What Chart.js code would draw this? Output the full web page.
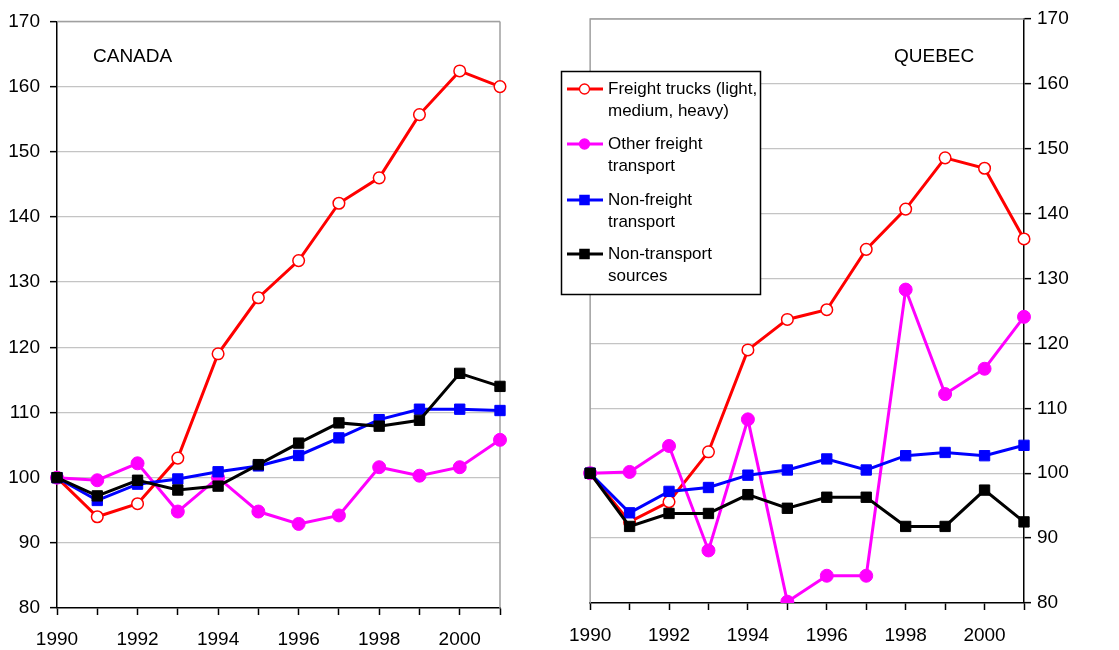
<!DOCTYPE html>
<html>
<head>
<meta charset="utf-8">
<script src="https://cdn.jsdelivr.net/npm/chart.js@4/dist/chart.umd.min.js"></script>
<style>
  html, body { margin:0; padding:0; background:#fff; }
  #wrap { position:relative; width:1119px; height:650px; overflow:hidden; }
  #c1 { position:absolute; left:0; top:0; }
  #c2 { position:absolute; left:555px; top:0; }
</style>
</head>
<body>
<div id="wrap">
  <canvas id="c1" width="555" height="650"></canvas>
  <canvas id="c2" width="564" height="650"></canvas>
</div>
<script>
const years = ['1990','1991','1992','1993','1994','1995','1996','1997','1998','1999','2000','2001'];
const yTickMin = 80;
const yTickMax = 170;
const yTickStep = 10;

const seriesNames = [
  ['Freight trucks (light,', 'medium, heavy)'],
  ['Other freight', 'transport'],
  ['Non-freight', 'transport'],
  ['Non-transport', 'sources']
];

const canadaTrucks       = [100, 94.0, 96.0, 103.0, 119.0, 127.6, 133.3, 142.1, 146.0, 155.7, 162.4, 160.0];
const canadaOther        = [100, 99.6, 102.2, 94.8, 100.0, 94.8, 92.9, 94.2, 101.6, 100.3, 101.6, 105.8];
const canadaNonFreight   = [100, 96.5, 99.0, 99.8, 100.9, 101.8, 103.4, 106.1, 108.9, 110.5, 110.5, 110.3];
const canadaNonTransport = [100, 97.2, 99.6, 98.1, 98.7, 102.0, 105.3, 108.4, 107.9, 108.8, 116.0, 114.0];

const quebecTrucks       = [100, 92.5, 95.6, 103.3, 119.0, 123.7, 125.2, 134.5, 140.7, 148.6, 147.0, 136.1];
const quebecOther        = [100, 100.2, 104.2, 88.1, 108.3, 80.2, 84.2, 84.2, 128.3, 112.2, 116.1, 124.1];
const quebecNonFreight   = [100, 93.9, 97.2, 97.8, 99.7, 100.5, 102.2, 100.5, 102.7, 103.2, 102.7, 104.3];
const quebecNonTransport = [100, 91.8, 93.8, 93.8, 96.7, 94.6, 96.3, 96.3, 91.8, 91.8, 97.4, 92.5];

const FONT = 'Arial, "Liberation Sans", sans-serif';
const styles = [
  { color:'#ff0000', pointStyle:'circle', bg:'#ffffff', radius:5.8, bw:1.5 },
  { color:'#ff00ff', pointStyle:'circle', bg:'#ff00ff', radius:6.5, bw:1 },
  { color:'#0000ff', pointStyle:'rect',   bg:'#0000ff', radius:7.3, bw:1 },
  { color:'#000000', pointStyle:'rect',   bg:'#000000', radius:7.3, bw:1 }
];

function makeDatasets(arrs) {
  return arrs.map((d, i) => ({
    label: seriesNames[i].join(' '),
    data: d,
    borderColor: styles[i].color,
    backgroundColor: styles[i].bg,
    borderWidth: 3,
    pointStyle: styles[i].pointStyle,
    pointRadius: styles[i].radius,
    pointBackgroundColor: styles[i].bg,
    pointBorderColor: styles[i].color,
    pointBorderWidth: styles[i].bw,
    tension: 0,
    order: 4 - i
  }));
}

const framePlugin = {
  id: 'frame',
  beforeDatasetsDraw(chart, args, opts) {
    const a = chart.chartArea, ctx = chart.ctx;
    ctx.save();
    ctx.strokeStyle = '#a0a0a0';
    ctx.lineWidth = 1.5;
    ctx.beginPath();
    if (opts.side === 'right') {
      ctx.moveTo(a.left, a.top); ctx.lineTo(a.right, a.top);
      ctx.moveTo(a.right, a.top); ctx.lineTo(a.right, a.bottom);
    } else {
      ctx.moveTo(a.left, a.bottom); ctx.lineTo(a.left, a.top);
      ctx.lineTo(a.right, a.top);
    }
    ctx.stroke();
    ctx.restore();
  },
  afterDraw(chart, args, opts) {
    const ctx = chart.ctx;
    ctx.save();
    ctx.fillStyle = '#000';
    ctx.font = '19px ' + FONT;
    ctx.textBaseline = 'middle';
    ctx.textAlign = 'left';
    ctx.fillText(opts.title, opts.tx, opts.ty);
    ctx.restore();
    if (opts.legend) drawLegend(ctx);
  }
};

function drawMarker(ctx, st, x, y, r) {
  ctx.fillStyle = st.bg;
  ctx.strokeStyle = st.color;
  ctx.lineWidth = 1.3;
  ctx.beginPath();
  if (st.pointStyle === 'circle') {
    ctx.arc(x, y, r, 0, Math.PI * 2);
  } else {
    ctx.rect(x - r, y - r, 2 * r, 2 * r);
  }
  ctx.fill();
  ctx.stroke();
}

function drawLegend(ctx) {
  const bx = 6, by = 71, bw = 200, bh = 224;
  ctx.save();
  ctx.fillStyle = '#fff';
  ctx.fillRect(bx, by, bw, bh);
  ctx.strokeStyle = '#000';
  ctx.lineWidth = 1.5;
  ctx.strokeRect(bx + 0.5, by + 0.5, bw - 1, bh - 1);
  const rows = [89, 144, 200, 254];
  ctx.font = '17px ' + FONT;
  ctx.textBaseline = 'middle';
  ctx.textAlign = 'left';
  seriesNames.forEach((lines, i) => {
    const y = rows[i];
    const st = styles[i];
    ctx.strokeStyle = st.color;
    ctx.lineWidth = 3;
    ctx.beginPath();
    ctx.moveTo(12, y); ctx.lineTo(48, y);
    ctx.stroke();
    drawMarker(ctx, st, 29.5, y, st.pointStyle === 'circle' ? 5 : 4.6);
    ctx.fillStyle = '#000';
    lines.forEach((t, j) => ctx.fillText(t, 53, y + j * 22.7));
  });
  ctx.restore();
}

function makeChart(id, arrs, side, title, tx, ty, legend, pad, yWidth, xHeight, xPad) {
  return new Chart(document.getElementById(id), {
    type: 'line',
    data: { labels: years, datasets: makeDatasets(arrs) },
    plugins: [framePlugin],
    options: {
      responsive: false,
      animation: false,
      devicePixelRatio: 1,
      layout: { padding: pad },
      plugins: {
        legend: { display: false },
        tooltip: { enabled: false },
        frame: { side: side, title: title, tx: tx, ty: ty, legend: legend }
      },
      scales: {
        x: {
          offset: false,
          grid: { drawOnChartArea: false, drawTicks: true, tickLength: 7, tickColor: '#000', tickWidth: 1.5 },
          border: { color: '#000', width: 1.5 },
          ticks: {
            autoSkip: false, maxRotation: 0, padding: xPad, color: '#000',
            font: { family: FONT, size: 19 },
            callback: function(v, i) { const y = years[i]; return (parseInt(y) % 2 === 0) ? y : ''; }
          },
          afterFit: s => { s.height = xHeight; }
        },
        y: {
          position: side === 'right' ? 'left' : 'right',
          min: yTickMin, max: yTickMax,
          grid: {
            color: c => (c.tick && c.tick.value === yTickMin) ? 'rgba(0,0,0,0)' : '#c4c4c4',
            lineWidth: 1.3,
            drawTicks: true, tickLength: 7, tickColor: '#000', tickWidth: 1.5
          },
          border: { color: '#000', width: 1.5 },
          ticks: {
            stepSize: yTickStep, padding: side === 'right' ? 10 : 6, color: '#000',
            font: { family: FONT, size: 19 }
          },
          afterFit: s => { s.width = yWidth; }
        }
      }
    }
  });
}

makeChart('c1', [canadaTrucks, canadaOther, canadaNonFreight, canadaNonTransport],
  'right', 'CANADA', 93, 57, false, { left: 0, top: 20, right: 55, bottom: 0 }, 57, 42, 13);
makeChart('c2', [quebecTrucks, quebecOther, quebecNonFreight, quebecNonTransport],
  'left', 'QUEBEC', 339, 57, true, { left: 33, top: 19, right: 0, bottom: 0 }, 95, 47, 14);
</script>
</body>
</html>
